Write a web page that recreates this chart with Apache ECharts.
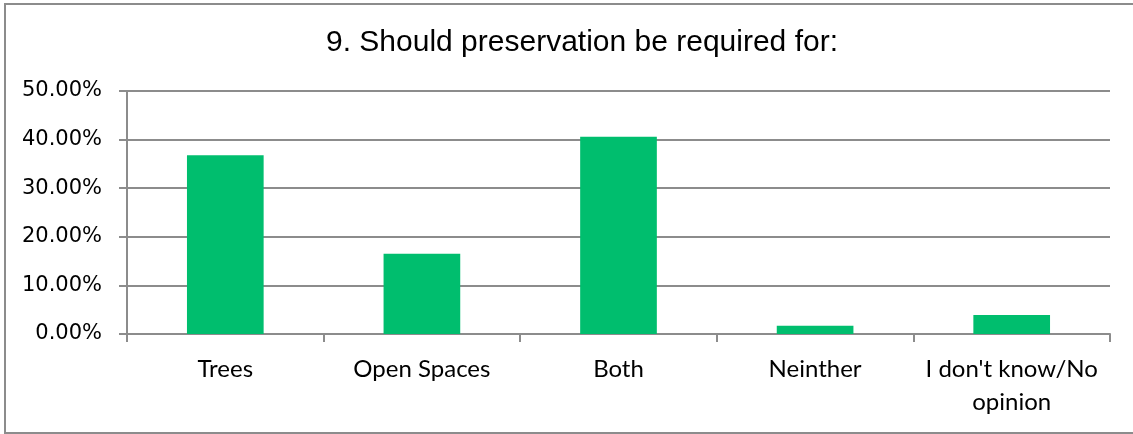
<!DOCTYPE html>
<html>
<head>
<meta charset="utf-8">
<script src="https://cdn.jsdelivr.net/npm/echarts@6/dist/echarts.min.js"></script>
<style>
  html, body { margin: 0; padding: 0; background: #fff; }
  #chart { width: 1133px; height: 434px; }
</style>
</head>
<body>
<div id="chart"></div>
<script>
const titleText = '9. Should preservation be required for:';
const categories = ['Trees', 'Open Spaces', 'Both', 'Neinther', "I don't know/No opinion"];
const values = [36.8, 16.5, 40.6, 1.7, 3.9];
const yTicks = { min: 0, max: 50, interval: 10 };

const chart = echarts.init(document.getElementById('chart'), null, { renderer: 'canvas' });
chart.setOption({
  animation: false,
  backgroundColor: '#ffffff',
  title: {
    text: titleText,
    left: 321,
    top: 23,
    textStyle: { fontFamily: 'Liberation Sans, Arial, sans-serif', fontSize: 30, fontWeight: 'normal', color: '#000' }
  },
  graphic: [{
    type: 'rect',
    shape: { x: 5, y: 4, width: 1160, height: 429 },
    style: { fill: 'none', stroke: '#8c8c8c', lineWidth: 2 },
    silent: true
  }],
  grid: { left: 127, right: 23, top: 91, bottom: 100 },
  xAxis: {
    type: 'category',
    data: categories,
    axisLine: { lineStyle: { color: '#8c8c8c', width: 2 } },
    axisTick: { show: true, length: 8, lineStyle: { color: '#8c8c8c', width: 2 } },
    axisLabel: {
      interval: 0,
      margin: 19,
      fontFamily: 'Lato, sans-serif',
      fontSize: 24,
      lineHeight: 33,
      color: '#000',
      formatter: v => v.replace('/No ', '/No\n')
    }
  },
  yAxis: {
    type: 'value',
    min: yTicks.min,
    max: yTicks.max,
    interval: yTicks.interval,
    axisLine: { show: true, lineStyle: { color: '#8c8c8c', width: 2 } },
    axisTick: { show: true, length: 8, lineStyle: { color: '#8c8c8c', width: 2 } },
    splitLine: { show: true, lineStyle: { color: '#8c8c8c', width: 2 } },
    axisLabel: {
      margin: 25,
      fontFamily: 'DejaVu Sans, Verdana, sans-serif',
      fontSize: 21,
      color: '#000',
      formatter: v => v.toFixed(2) + '%'
    }
  },
  series: [{
    type: 'bar',
    data: values,
    barWidth: '39%',
    itemStyle: { color: '#00be6e' }
  }]
});
</script>
</body>
</html>
